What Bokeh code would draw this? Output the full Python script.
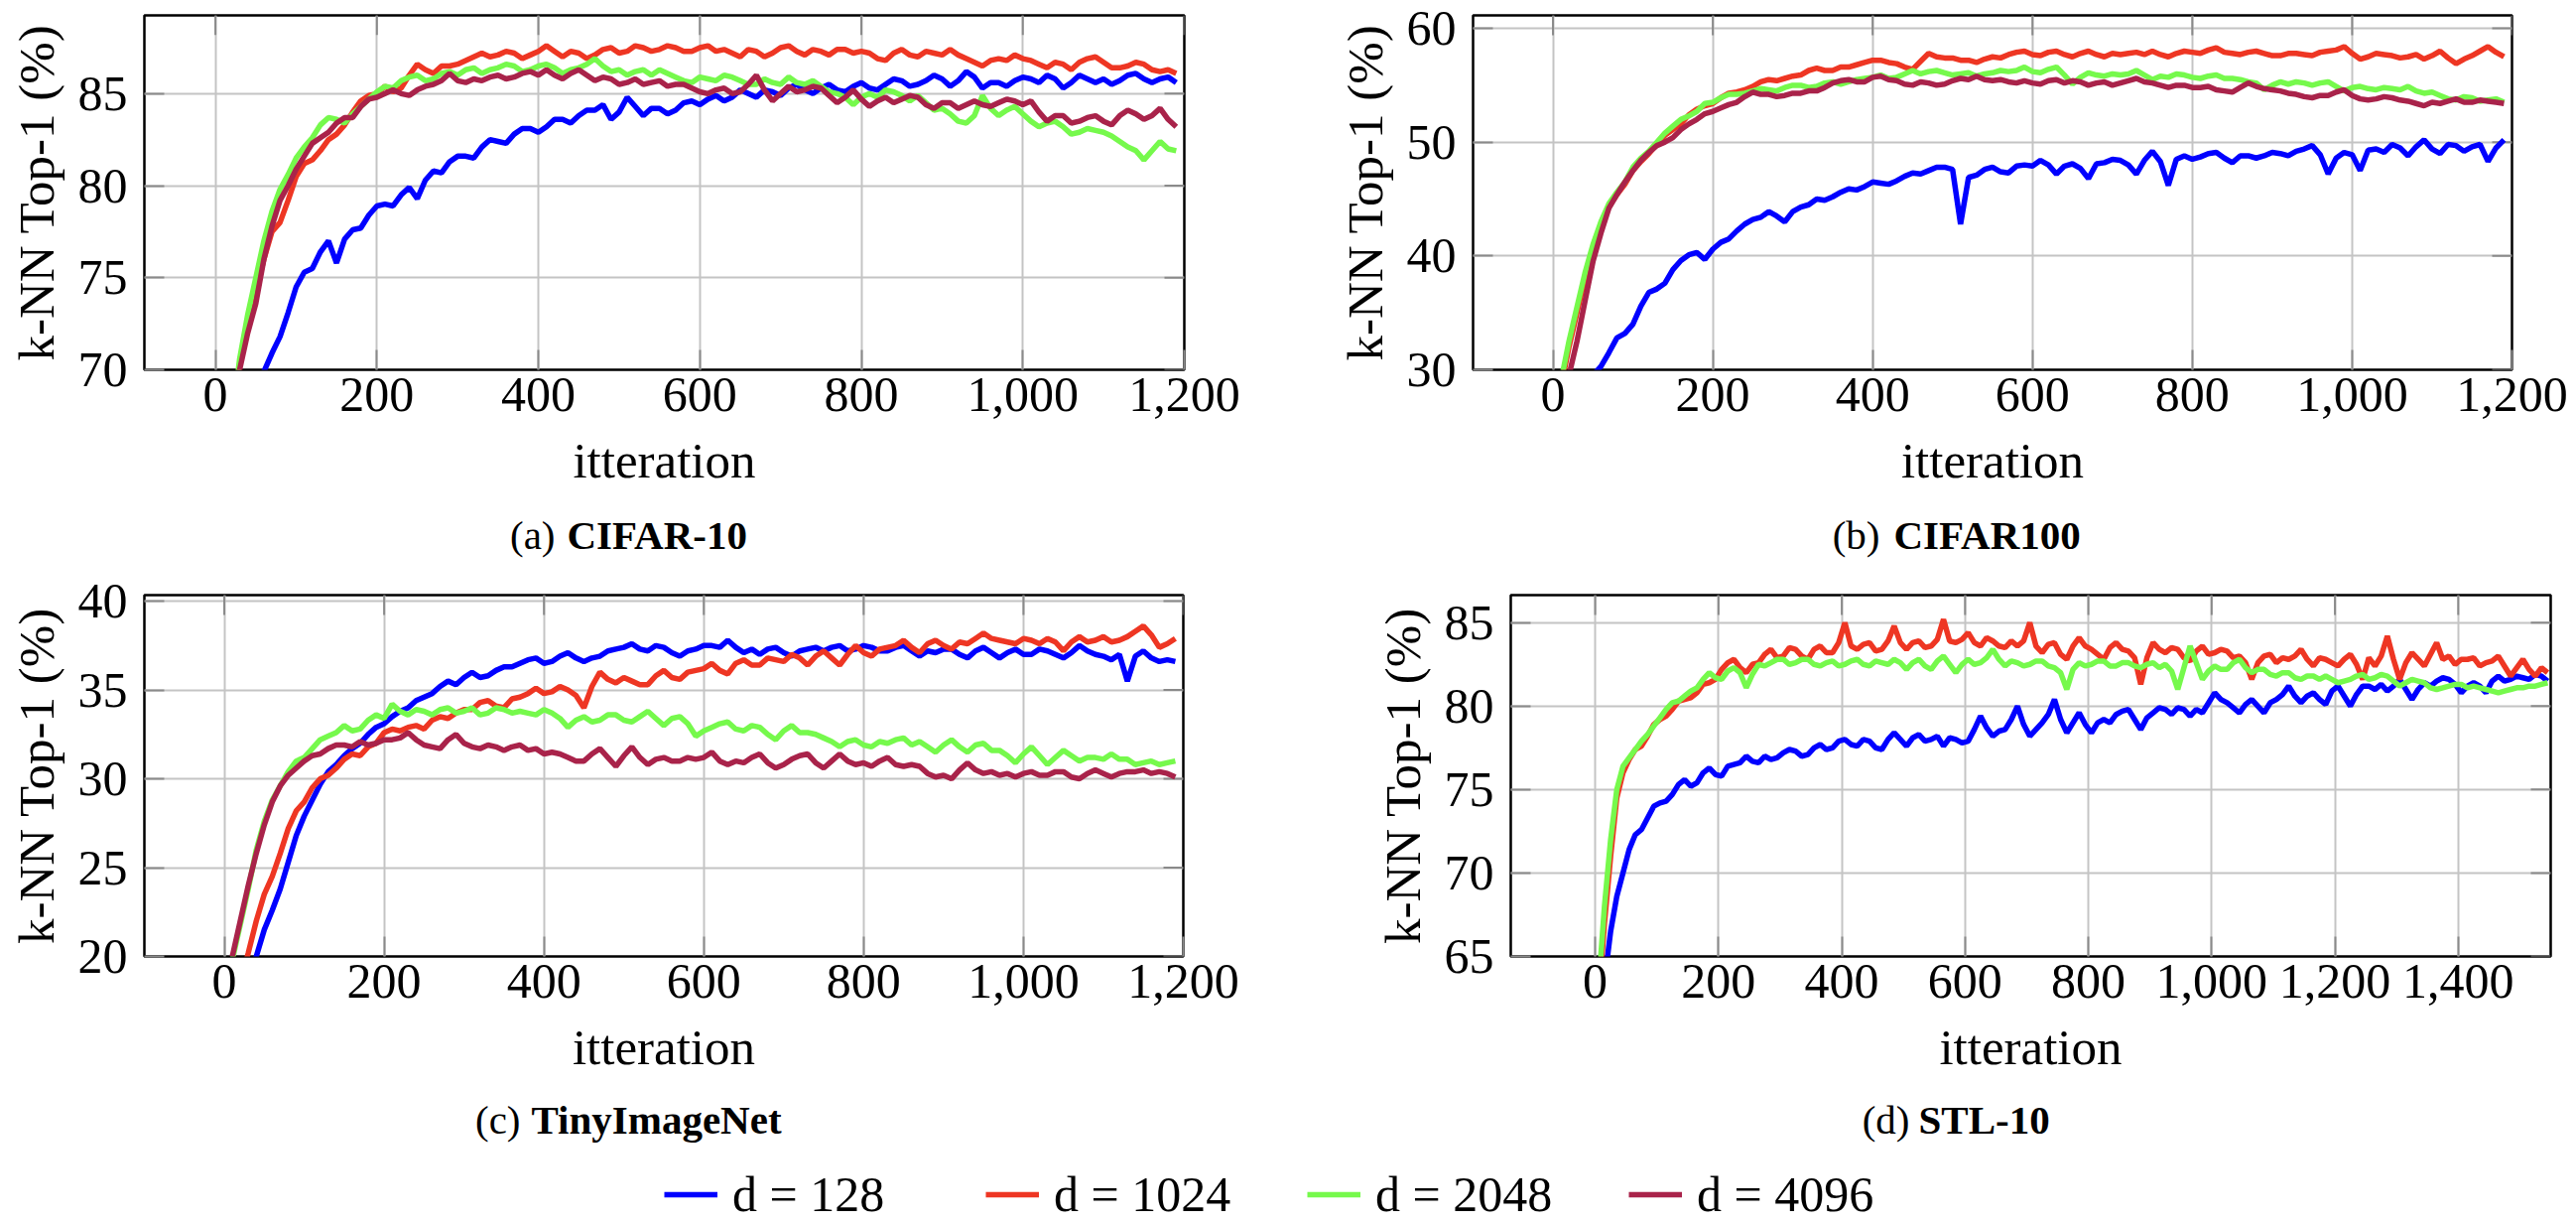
from bokeh.plotting import figure
from bokeh.models import (Range1d, FixedTicker, NumeralTickFormatter, Label, Legend, LegendItem)
from bokeh.layouts import column, row
from bokeh.embed import file_html
from bokeh.resources import INLINE

# ---------------- data ----------------
SERIES = ["d = 128", "d = 1024", "d = 2048", "d = 4096"]
COLORS = ["#0000ff", "#ee3623", "#76f94c", "#a9234a"]

# readings every 20 iterations, plus the in-between readings (…_MID)
ITER_ABC = list(range(10, 1200, 20))
ITER_ABC_MID = list(range(20, 1200, 20))
ITER_D = list(range(5, 1550, 20))
ITER_D_MID = list(range(15, 1545, 20))

X_TICKS_ABC = [0, 200, 400, 600, 800, 1000, 1200]
X_TICKS_D = [0, 200, 400, 600, 800, 1000, 1200, 1400]
A_Y_TICKS = [70, 75, 80, 85]
B_Y_TICKS = [30, 40, 50, 60]
C_Y_TICKS = [20, 25, 30, 35, 40]
D_Y_TICKS = [65, 70, 75, 80, 85]

CAPTION_TAGS = ["(a)", "(b)", "(c)", "(d)"]
CAPTION_NAMES = ["CIFAR-10", "CIFAR100", "TinyImageNet", "STL-10"]

# (a) CIFAR-10
A_128 = [61.0, 65.0, 68.5, 70.9, 73.1, 75.3, 76.4, 75.8, 77.6, 78.4,
         79.0, 79.5, 79.3, 80.8, 81.3, 81.6, 82.1, 82.4, 82.8, 83.1,
         83.2, 83.6, 83.8, 84.1, 83.6, 84.8, 83.8, 84.2, 84.1, 84.6,
         84.7, 84.6, 85.2, 84.8, 85.1, 85.3, 85.2, 85.3, 85.2, 85.4,
         85.3, 85.5, 85.7, 85.5, 86.0, 85.4, 86.2, 85.3, 85.6, 85.7,
         85.8, 86.0, 85.3, 86.0, 85.6, 85.5, 86.0, 85.8, 85.8, 85.6]
A_128_MID = [63.2, 66.6, 69.9, 71.8, 74.5, 75.5, 77.0, 77.1, 77.7, 78.9,
             78.9, 79.9, 80.3, 80.7, 81.6, 81.5, 82.5, 82.3, 83.1, 82.9,
             83.6, 83.4, 84.1, 84.4, 84.0, 84.3, 84.2, 83.9, 84.5, 84.4,
             84.9, 84.8, 85.0, 85.2, 84.9, 85.5, 85.0, 85.5, 85.1, 85.6,
             85.2, 85.8, 85.4, 85.7, 85.8, 85.7, 85.9, 85.6, 85.4, 85.9,
             85.6, 85.8, 85.6, 85.8, 85.8, 85.7, 86.1, 85.6, 85.9]
A_1024 = [62.0, 70.3, 74.2, 77.5, 79.2, 81.2, 81.9, 82.8, 84.0, 84.9,
          85.4, 85.3, 86.6, 86.1, 86.5, 86.8, 87.2, 87.1, 87.2, 87.1,
          87.6, 87.0, 87.2, 87.1, 87.5, 87.3, 87.5, 87.4, 87.5, 87.3,
          87.6, 87.4, 87.0, 87.3, 87.2, 87.6, 87.1, 87.3, 87.4, 87.2,
          87.2, 86.8, 87.4, 87.0, 87.2, 87.4, 86.9, 86.5, 86.9, 87.1,
          86.8, 86.4, 86.6, 86.7, 87.0, 86.4, 86.5, 86.6, 86.2, 86.1]
A_1024_MID = [66.5, 72.4, 76.0, 78.0, 80.5, 81.4, 82.5, 83.3, 84.6, 85.0,
              85.1, 86.0, 86.3, 86.5, 86.6, 87.0, 87.0, 87.3, 86.9, 87.3,
              87.3, 87.3, 86.9, 87.4, 87.2, 87.6, 87.3, 87.6, 87.3, 87.5,
              87.3, 87.2, 87.4, 87.0, 87.5, 87.3, 87.4, 87.1, 87.4, 87.3,
              86.9, 87.2, 87.1, 87.3, 87.1, 87.1, 86.7, 86.8, 86.8, 86.9,
              86.6, 86.7, 86.3, 86.9, 86.7, 86.4, 86.7, 86.3, 86.3]
A_2048 = [63.0, 70.6, 75.0, 78.6, 80.6, 82.1, 83.3, 83.6, 83.9, 84.7,
          85.4, 85.7, 86.0, 85.8, 86.2, 86.3, 86.1, 86.4, 86.5, 86.3,
          86.6, 86.1, 86.4, 86.9, 86.2, 86.0, 86.3, 86.3, 85.9, 85.6,
          85.8, 86.0, 85.7, 85.5, 85.6, 85.9, 85.5, 85.4, 85.0, 84.4,
          85.0, 85.2, 84.9, 84.9, 84.1, 83.9, 83.4, 84.9, 83.8, 84.3,
          83.5, 83.4, 83.2, 82.9, 83.0, 82.7, 82.1, 81.4, 82.4, 81.9]
A_2048_MID = [67.0, 73.0, 77.0, 79.8, 81.5, 82.6, 83.7, 83.4, 84.3, 85.1,
              85.3, 85.9, 85.7, 86.1, 86.0, 86.4, 86.3, 86.6, 86.2, 86.5,
              86.4, 86.3, 86.6, 86.5, 86.3, 86.2, 86.0, 86.1, 85.7, 85.9,
              85.7, 85.9, 85.5, 85.8, 85.5, 85.6, 85.7, 85.1, 84.8, 84.8,
              84.8, 85.1, 84.6, 84.5, 84.2, 83.5, 83.8, 84.2, 84.1, 83.9,
              83.2, 83.5, 82.8, 83.1, 82.9, 82.4, 81.9, 81.9, 82.0]
A_4096 = [61.5, 70.0, 73.6, 77.8, 80.0, 81.6, 82.6, 83.4, 83.7, 84.7,
          85.0, 85.0, 85.2, 85.5, 86.1, 85.6, 85.7, 86.0, 85.9, 86.2,
          86.3, 85.8, 86.3, 85.7, 85.8, 85.6, 85.5, 85.7, 85.5, 85.3,
          85.0, 85.3, 85.1, 86.0, 84.6, 85.4, 85.2, 85.3, 84.5, 85.2,
          84.3, 84.8, 84.7, 84.8, 84.2, 84.5, 84.4, 84.4, 84.5, 84.6,
          84.6, 83.5, 83.8, 83.5, 83.8, 83.3, 84.1, 83.6, 84.2, 83.2]
A_4096_MID = [66.0, 72.0, 76.0, 79.2, 80.9, 82.3, 82.9, 83.7, 84.3, 84.8,
              85.2, 84.9, 85.4, 85.7, 85.7, 85.8, 85.9, 85.8, 86.1, 86.0,
              86.0, 86.1, 86.0, 85.9, 85.5, 85.8, 85.6, 85.4, 85.5, 85.1,
              85.2, 85.0, 85.5, 85.2, 85.0, 85.1, 85.4, 84.9, 84.8, 84.7,
              84.6, 84.5, 84.9, 84.4, 84.5, 84.2, 84.6, 84.3, 84.7, 84.4,
              84.0, 83.8, 83.4, 83.7, 83.5, 83.8, 83.9, 83.8, 83.6]

# (b) CIFAR100
B_128 = [22.0, 26.0, 29.5, 31.5, 33.2, 35.6, 37.1, 38.8, 40.1, 39.7,
         41.2, 42.2, 43.2, 43.9, 43.0, 44.3, 45.0, 45.2, 45.9, 46.1,
         46.4, 46.6, 47.3, 47.5, 47.8, 42.8, 47.1, 47.8, 47.3, 48.0,
         48.4, 47.2, 48.1, 46.8, 48.2, 48.4, 47.2, 49.2, 46.2, 48.8,
         48.7, 49.1, 48.2, 48.8, 48.8, 49.0, 49.2, 49.7, 47.2, 49.1,
         47.5, 49.4, 49.8, 48.8, 50.2, 49.0, 49.7, 49.6, 48.3, 50.2]
B_128_MID = [24.0, 28.0, 30.3, 32.8, 34.0, 36.8, 37.6, 39.6, 40.3, 40.6,
             41.5, 42.8, 43.4, 43.5, 43.9, 44.5, 44.9, 45.6, 45.8, 46.5,
             46.3, 47.0, 47.2, 47.8, 47.6, 46.9, 47.6, 47.4, 47.9, 47.9,
             48.0, 47.9, 47.7, 48.1, 48.5, 48.0, 48.4, 48.3, 48.5, 48.5,
             49.0, 48.6, 48.8, 48.6, 49.1, 48.8, 49.4, 48.9, 48.6, 48.9,
             49.3, 49.1, 49.5, 49.6, 49.4, 49.8, 49.2, 49.8, 49.5]
B_1024 = [28.5, 35.0, 40.6, 44.3, 46.3, 48.3, 49.8, 51.1, 52.4, 53.2,
          53.9, 54.4, 54.9, 55.5, 55.6, 55.9, 56.5, 56.3, 56.6, 57.0,
          57.2, 56.9, 56.4, 57.8, 57.4, 57.2, 57.0, 57.5, 57.7, 58.0,
          57.6, 58.0, 57.5, 58.0, 57.5, 57.7, 57.9, 58.0, 57.5, 58.0,
          57.8, 58.3, 57.8, 57.9, 57.8, 57.6, 57.8, 57.6, 58.0, 58.4,
          57.3, 57.8, 57.6, 57.5, 57.3, 58.0, 56.9, 57.6, 58.4, 57.5]
B_1024_MID = [32.0, 38.0, 42.6, 45.4, 47.5, 49.0, 50.6, 51.6, 52.9, 53.4,
              54.3, 54.6, 55.3, 55.4, 55.8, 56.3, 56.3, 56.6, 56.8, 57.2,
              57.0, 56.6, 57.1, 57.5, 57.4, 57.2, 57.3, 57.4, 57.9, 57.7,
              57.9, 57.7, 57.8, 57.7, 57.8, 57.8, 57.7, 57.7, 57.8, 57.9,
              58.1, 57.9, 57.7, 58.0, 57.6, 57.8, 57.7, 57.9, 58.1, 57.8,
              57.5, 57.7, 57.4, 57.7, 57.6, 57.4, 57.3, 58.0, 57.9]
B_2048 = [29.0, 35.5, 41.0, 44.6, 46.5, 48.6, 50.0, 51.4, 52.3, 53.4,
          53.9, 54.2, 54.5, 54.6, 54.8, 55.0, 54.9, 55.3, 55.3, 55.6,
          55.9, 55.7, 56.3, 56.2, 56.1, 56.0, 55.8, 56.1, 56.2, 56.6,
          56.1, 56.6, 55.1, 56.1, 55.8, 55.9, 56.3, 55.5, 55.7, 55.9,
          55.6, 55.9, 55.6, 55.3, 54.6, 55.3, 55.3, 55.0, 55.3, 54.5,
          54.9, 54.6, 54.7, 54.9, 54.3, 54.1, 53.7, 53.9, 53.7, 53.5]
B_2048_MID = [32.5, 38.5, 43.0, 45.6, 47.8, 49.2, 50.8, 52.0, 52.7, 53.5,
              54.2, 54.3, 54.7, 54.5, 55.0, 54.8, 55.2, 55.1, 55.5, 55.7,
              55.6, 56.0, 56.0, 56.3, 55.9, 56.1, 56.0, 56.3, 56.3, 56.2,
              56.4, 55.9, 55.7, 55.9, 56.0, 56.0, 55.9, 55.8, 56.0, 55.7,
              55.8, 55.6, 55.5, 55.2, 55.0, 55.1, 55.2, 55.2, 54.9, 54.8,
              54.7, 54.8, 54.6, 54.5, 54.4, 53.8, 54.0, 53.6, 53.8]
B_4096 = [27.0, 32.5, 39.5, 44.2, 46.5, 48.4, 49.7, 50.4, 51.6, 52.5,
          53.0, 53.5, 54.4, 54.2, 54.1, 54.3, 54.5, 55.2, 55.5, 55.3,
          55.8, 55.4, 55.0, 55.2, 55.1, 55.6, 55.8, 55.4, 55.3, 55.4,
          55.1, 55.5, 55.4, 55.0, 55.3, 55.2, 55.6, 55.2, 54.8, 55.0,
          54.8, 54.6, 54.4, 55.2, 54.7, 54.5, 54.2, 53.9, 54.1, 54.6,
          53.8, 53.8, 53.9, 53.6, 53.2, 53.4, 53.8, 53.5, 53.6, 53.4]
B_4096_MID = [29.5, 36.0, 42.0, 45.4, 47.5, 49.1, 50.0, 51.1, 52.0, 52.7,
              53.3, 54.0, 54.2, 54.0, 54.3, 54.5, 54.8, 55.4, 55.3, 55.7,
              55.5, 55.1, 55.3, 55.0, 55.4, 55.5, 55.5, 55.5, 55.2, 55.2,
              55.4, 55.2, 55.3, 55.2, 55.0, 55.4, 55.3, 55.0, 55.0, 54.8,
              54.9, 54.5, 54.8, 54.9, 54.6, 54.3, 54.0, 54.1, 54.4, 54.1,
              53.7, 54.0, 53.7, 53.4, 53.5, 53.6, 53.5, 53.7, 53.5]

# (c) TinyImageNet
C_128 = [15.0, 18.5, 21.5, 23.8, 26.8, 28.8, 30.4, 31.3, 32.0, 32.9,
         33.5, 34.0, 34.6, 35.2, 35.3, 36.0, 35.8, 36.3, 36.5, 36.8,
         36.6, 37.1, 36.6, 36.9, 37.3, 37.6, 37.2, 37.4, 36.9, 37.3,
         37.5, 37.8, 37.1, 37.0, 37.4, 36.9, 37.3, 37.2, 37.5, 37.3,
         37.4, 37.2, 37.5, 36.9, 37.1, 37.3, 36.8, 37.4, 36.8, 37.3,
         37.0, 37.2, 36.8, 37.5, 37.0, 36.7, 35.5, 37.2, 36.6, 36.6]
C_128_MID = [16.8, 20.0, 22.6, 25.3, 27.9, 29.7, 30.8, 31.7, 32.5, 33.1,
             33.8, 34.4, 34.8, 35.5, 35.7, 35.7, 36.1, 36.3, 36.7, 36.5,
             36.9, 36.8, 36.8, 37.2, 37.4, 37.3, 37.5, 37.1, 37.2, 37.5,
             37.4, 37.4, 37.3, 37.3, 37.1, 37.2, 37.4, 37.4, 37.2, 37.5,
             37.2, 37.4, 37.2, 37.2, 37.3, 37.0, 37.2, 37.1, 37.1, 37.0,
             37.3, 37.0, 37.1, 37.2, 36.9, 37.0, 36.9, 36.8, 36.7]
C_1024 = [17.0, 20.2, 23.5, 25.8, 28.2, 29.5, 30.2, 31.1, 31.3, 32.0,
          32.8, 32.9, 32.8, 33.5, 33.7, 33.9, 34.4, 34.0, 34.6, 35.1,
          34.9, 35.0, 34.0, 36.0, 35.4, 35.5, 35.3, 36.1, 35.6, 36.1,
          36.5, 35.9, 36.7, 36.4, 36.7, 37.0, 36.4, 37.2, 36.4, 37.5,
          36.9, 37.4, 37.8, 37.1, 37.8, 37.3, 37.6, 38.2, 37.8, 37.6,
          37.8, 37.9, 37.2, 38.0, 37.8, 37.7, 38.0, 38.6, 37.4, 37.9]
C_1024_MID = [18.5, 22.0, 24.5, 27.2, 28.7, 30.0, 30.6, 31.4, 31.8, 32.6,
              32.7, 33.0, 33.3, 33.4, 33.9, 34.3, 34.1, 34.5, 34.8, 34.8,
              35.2, 34.7, 35.2, 35.6, 35.7, 35.3, 35.8, 35.7, 36.0, 36.2,
              36.1, 36.5, 36.4, 36.8, 36.6, 36.8, 36.9, 36.8, 37.0, 37.1,
              37.3, 37.5, 37.4, 37.6, 37.5, 37.7, 37.9, 37.9, 37.7, 37.9,
              37.6, 37.7, 37.7, 37.7, 38.0, 37.8, 38.3, 38.1, 37.6]
C_2048 = [19.8, 23.8, 27.6, 29.6, 31.0, 31.7, 32.4, 33.0, 32.8, 33.6,
          34.2, 33.6, 33.8, 33.9, 33.7, 34.0, 33.7, 33.9, 33.8, 33.6,
          33.7, 32.9, 33.5, 33.3, 33.6, 33.2, 33.8, 33.0, 33.5, 32.4,
          32.9, 33.2, 32.7, 32.9, 32.2, 33.0, 32.6, 32.3, 31.8, 32.2,
          31.8, 32.0, 32.3, 32.1, 31.5, 32.2, 31.5, 32.0, 31.6, 30.9,
          31.8, 30.8, 31.6, 31.0, 31.2, 31.4, 31.1, 30.9, 30.8, 31.0]
C_2048_MID = [21.8, 26.0, 28.8, 30.4, 31.2, 32.2, 32.6, 32.7, 33.3, 33.4,
              33.8, 33.9, 33.6, 34.0, 33.8, 33.6, 34.0, 33.7, 33.7, 33.9,
              33.4, 33.3, 33.2, 33.6, 33.3, 33.5, 33.4, 33.4, 33.1, 32.7,
              33.1, 32.8, 33.0, 32.5, 32.7, 32.6, 32.5, 32.1, 32.1, 31.9,
              32.1, 32.2, 31.9, 31.8, 31.9, 31.8, 31.9, 31.6, 31.3, 31.4,
              31.3, 31.2, 31.3, 31.2, 31.1, 31.1, 30.8, 31.0, 30.9]
C_4096 = [20.0, 24.0, 27.4, 29.6, 30.6, 31.3, 31.7, 31.9, 32.1, 32.0,
          32.2, 32.6, 31.9, 31.7, 32.5, 31.8, 31.9, 31.6, 31.9, 31.7,
          31.5, 31.2, 31.0, 31.7, 30.7, 31.8, 30.8, 31.2, 31.0, 31.1,
          31.5, 30.8, 30.9, 31.4, 30.6, 31.1, 31.4, 30.6, 31.4, 30.8,
          30.7, 31.2, 30.7, 30.7, 30.1, 30.0, 30.9, 30.3, 30.2, 30.1,
          30.4, 30.2, 30.4, 30.0, 30.5, 30.1, 30.4, 30.5, 30.4, 30.1]
C_4096_MID = [22.0, 25.8, 28.7, 30.2, 31.0, 31.4, 31.9, 31.8, 31.9, 32.2,
              32.3, 32.2, 31.8, 32.2, 32.0, 31.7, 31.8, 31.8, 31.6, 31.4,
              31.4, 31.0, 31.4, 31.2, 31.3, 31.2, 31.1, 31.0, 31.2, 31.2,
              31.0, 31.0, 31.2, 30.9, 30.8, 31.3, 30.9, 31.0, 31.0, 30.9,
              31.0, 30.8, 30.8, 30.3, 30.2, 30.5, 30.5, 30.4, 30.3, 30.3,
              30.2, 30.4, 30.1, 30.3, 30.3, 30.3, 30.4, 30.3, 30.3]

# (d) STL-10 (no d = 4096 run)
D_128 = [60.0, 66.5, 70.0, 72.3, 73.3, 74.2, 74.7, 75.6, 75.4, 76.3,
         75.8, 76.5, 77.0, 76.6, 76.8, 77.2, 77.3, 77.1, 77.7, 77.5,
         78.0, 77.6, 77.9, 77.4, 78.4, 77.6, 78.3, 78.0, 77.6, 78.0,
         77.9, 79.4, 78.2, 78.6, 80.0, 78.2, 79.0, 80.4, 78.4, 79.6,
         78.4, 79.2, 79.5, 79.8, 78.6, 79.6, 79.8, 79.9, 79.4, 79.6,
         80.8, 80.2, 79.6, 80.4, 79.6, 80.4, 81.2, 80.2, 80.8, 80.1,
         81.2, 80.0, 81.2, 81.0, 80.9, 81.6, 80.4, 81.4, 81.5, 81.6,
         80.8, 81.4, 80.8, 81.8, 81.6, 81.7, 81.9, 81.5]
D_128_MID = [63.5, 68.6, 71.4, 72.6, 74.0, 74.3, 75.3, 75.2, 76.0, 75.9,
             76.4, 76.6, 76.7, 77.0, 76.9, 77.4, 77.0, 77.5, 77.4, 77.9,
             77.7, 78.0, 77.5, 78.0, 78.0, 78.1, 77.9, 78.2, 78.1, 77.8,
             78.6, 78.7, 78.5, 79.2, 78.9, 78.6, 79.5, 79.2, 79.0, 78.9,
             79.0, 79.0, 79.7, 79.2, 79.3, 79.9, 79.5, 79.8, 79.8, 80.2,
             80.4, 79.9, 80.1, 80.0, 80.2, 80.7, 80.6, 80.6, 80.4, 80.9,
             80.6, 80.7, 81.2, 81.3, 81.2, 81.0, 81.0, 81.2, 81.7, 81.3,
             81.2, 81.2, 81.5, 81.5, 81.8, 81.6, 81.8]
D_1024 = [62.0, 71.0, 76.0, 77.4, 78.2, 79.2, 79.8, 80.4, 80.8, 81.4,
          82.2, 82.8, 82.0, 82.6, 83.4, 83.0, 83.4, 82.8, 83.6, 83.2,
          85.0, 83.4, 83.8, 83.4, 84.8, 83.4, 83.9, 83.6, 85.2, 83.8,
          84.4, 83.6, 83.9, 83.5, 83.6, 85.0, 83.2, 83.8, 82.8, 84.1,
          83.4, 82.8, 83.8, 83.3, 81.3, 83.8, 83.2, 83.4, 82.7, 83.6,
          83.2, 83.3, 83.0, 81.6, 83.0, 82.6, 82.8, 83.4, 82.4, 82.8,
          82.4, 83.1, 81.6, 82.4, 84.2, 81.6, 83.2, 82.4, 83.8, 83.0,
          82.8, 82.9, 82.6, 83.0, 81.8, 82.8, 81.8, 82.0]
D_1024_MID = [67.0, 74.5, 76.8, 77.6, 78.9, 79.4, 80.3, 80.5, 81.3, 81.6,
              82.6, 82.3, 82.5, 83.1, 82.9, 83.5, 83.0, 83.4, 83.2, 83.8,
              83.6, 83.7, 83.3, 83.9, 83.8, 83.8, 83.5, 84.0, 83.9, 84.0,
              83.8, 84.1, 83.6, 83.9, 83.9, 83.6, 83.7, 83.1, 83.6, 83.6,
              83.1, 83.5, 83.4, 82.9, 82.9, 83.4, 83.5, 82.9, 83.3, 83.1,
              83.4, 82.9, 82.6, 82.6, 83.1, 82.9, 83.0, 82.8, 82.9, 82.6,
              82.8, 82.5, 82.9, 83.0, 82.8, 82.6, 82.8, 83.1, 82.8, 82.5,
              82.8, 82.4, 82.7, 82.4, 82.3, 82.2, 82.3]
D_2048 = [63.0, 72.0, 76.4, 77.4, 78.3, 79.3, 80.2, 80.6, 81.1, 82.0,
          81.6, 82.3, 81.1, 82.5, 82.6, 82.8, 82.6, 82.8, 82.4, 82.7,
          82.5, 82.8, 82.4, 82.6, 82.8, 82.2, 82.8, 82.2, 83.0, 82.0,
          82.8, 82.6, 83.4, 82.4, 82.6, 82.5, 82.7, 82.3, 81.0, 82.6,
          82.5, 82.7, 82.4, 82.6, 82.3, 82.6, 82.5, 81.0, 83.6, 81.6,
          82.4, 82.2, 82.8, 82.0, 82.2, 81.8, 82.0, 81.6, 81.8, 81.8,
          81.4, 81.6, 81.9, 81.7, 81.8, 81.2, 81.6, 81.4, 81.0, 81.2,
          81.3, 81.2, 81.0, 80.8, 81.0, 81.1, 81.2, 81.4]
D_2048_MID = [68.0, 75.0, 76.9, 77.9, 78.8, 79.8, 80.3, 80.9, 81.6, 81.7,
              82.1, 82.0, 81.9, 82.4, 82.8, 82.5, 82.8, 82.5, 82.6, 82.4,
              82.7, 82.5, 82.7, 82.5, 82.6, 82.6, 82.4, 82.7, 82.5, 82.5,
              82.5, 82.9, 82.8, 82.7, 82.4, 82.7, 82.4, 82.0, 82.2, 82.4,
              82.7, 82.4, 82.6, 82.4, 82.5, 82.3, 82.1, 82.3, 82.6, 82.1,
              82.2, 82.6, 82.3, 82.2, 81.9, 82.0, 81.7, 81.8, 81.6, 81.6,
              81.5, 81.8, 81.6, 81.9, 81.5, 81.4, 81.5, 81.1, 81.1, 81.3,
              81.1, 81.1, 80.9, 80.9, 81.1, 81.2, 81.3]


def merge(xa, ya, xb, yb):
    pts = sorted(list(zip(xa, ya)) + list(zip(xb, yb)))
    return [q[0] for q in pts], [q[1] for q in pts]


# ---------------- styling helpers ----------------
FONT = "Liberation Serif"
GRID = "#c4c4c4"
TICK = "#8a8a8a"
TICK_LEN = 20
LINE_W = 5.5


def style_axis(ax):
    ax.axis_line_color = None
    ax.major_tick_in = TICK_LEN
    ax.major_tick_out = 0
    ax.major_tick_line_color = TICK
    ax.major_tick_line_width = 2
    ax.minor_tick_line_color = None
    ax.major_label_text_font = FONT
    ax.major_label_text_font_size = "50px"
    ax.major_label_text_color = "black"
    ax.axis_label_text_font = FONT
    ax.axis_label_text_font_size = "51px"
    ax.axis_label_text_font_style = "normal"
    ax.axis_label_text_color = "black"


def panel(width, height, borders, xr, yr, xticks, yticks, runs):
    bl, br, bt, bb = borders
    fw = width - bl - br
    fh = height - bt - bb
    p = figure(width=width, height=height, x_range=Range1d(*xr), y_range=Range1d(*yr),
               output_backend="svg", toolbar_location=None,
               min_border_left=bl, min_border_right=br,
               min_border_top=bt, min_border_bottom=bb,
               x_axis_label="itteration", y_axis_label="k-NN Top-1 (%)")
    p.background_fill_color = "white"
    p.border_fill_color = "white"
    p.outline_line_color = "black"
    p.outline_line_width = 2.5
    xt = FixedTicker(ticks=xticks, minor_ticks=[])
    yt = FixedTicker(ticks=yticks, minor_ticks=[])
    p.xaxis.ticker = xt
    p.yaxis.ticker = yt
    p.xaxis.formatter = NumeralTickFormatter(format="0,0")
    p.grid.grid_line_color = GRID
    p.grid.grid_line_width = 2
    style_axis(p.xaxis[0])
    style_axis(p.yaxis[0])
    p.xaxis.major_label_standoff = 8
    p.xaxis.axis_label_standoff = 19
    p.yaxis.major_label_standoff = 17
    p.yaxis.axis_label_standoff = 11

    # inner tick marks on the top and right sides of the box (pgfplots style)
    dy = (yr[1] - yr[0]) * TICK_LEN / fh
    dx = (xr[1] - xr[0]) * TICK_LEN / fw
    p.segment(x0=xticks, y0=[yr[1]] * len(xticks), x1=xticks, y1=[yr[1] - dy] * len(xticks),
              line_color=TICK, line_width=2)
    p.segment(x0=[xr[1]] * len(yticks), y0=yticks, x1=[xr[1] - dx] * len(yticks), y1=yticks,
              line_color=TICK, line_width=2)

    for (xs, ys), c in zip(runs, COLORS):
        p.line(xs, ys, line_color=c, line_width=LINE_W)
    return p


def blank(width, height):
    f = figure(width=width, height=height, output_backend="svg", toolbar_location=None,
               x_axis_type=None, y_axis_type=None, min_border=0,
               x_range=Range1d(0, 1), y_range=Range1d(0, 1))
    f.outline_line_color = None
    f.grid.visible = False
    f.background_fill_color = "white"
    f.border_fill_color = "white"
    return f


def caption_row(height, entries):
    f = blank(2590, height)
    for tag, name, x_end, x_start, y in entries:
        f.add_layout(Label(x=x_end, y=y, x_units="screen", y_units="screen", text=tag,
                           text_align="right", text_baseline="middle", text_font=FONT,
                           text_font_size="41px", text_color="black"))
        f.add_layout(Label(x=x_start, y=y, x_units="screen", y_units="screen", text=name,
                           text_align="left", text_baseline="middle", text_font=FONT,
                           text_font_size="41px", text_font_style="bold", text_color="black"))
    return f


runs_a = [merge(ITER_ABC, v, ITER_ABC_MID, m) for v, m in
          [(A_128, A_128_MID), (A_1024, A_1024_MID), (A_2048, A_2048_MID), (A_4096, A_4096_MID)]]
runs_b = [merge(ITER_ABC, v, ITER_ABC_MID, m) for v, m in
          [(B_128, B_128_MID), (B_1024, B_1024_MID), (B_2048, B_2048_MID), (B_4096, B_4096_MID)]]
runs_c = [merge(ITER_ABC, v, ITER_ABC_MID, m) for v, m in
          [(C_128, C_128_MID), (C_1024, C_1024_MID), (C_2048, C_2048_MID), (C_4096, C_4096_MID)]]
runs_d = [merge(ITER_D, v, ITER_D_MID, m) for v, m in
          [(D_128, D_128_MID), (D_1024, D_1024_MID), (D_2048, D_2048_MID)]]

pa = panel(1268, 515, (145, 75, 9, 143), (-88, 1200), (70, 89.25), X_TICKS_ABC, A_Y_TICKS, runs_a)
pb = panel(1322, 515, (216, 59, 15, 143), (-100, 1200), (30, 61.14), X_TICKS_ABC, B_Y_TICKS, runs_b)
pc = panel(1268, 530, (145, 76, 29, 137), (-100, 1200), (20, 40.34), X_TICKS_ABC, C_Y_TICKS, runs_c)
pd = panel(1322, 530, (254, 20, 29, 137), (-137, 1550), (65, 86.65), X_TICKS_D, D_Y_TICKS, runs_d)

# caption rows: 515..570 and 1100..1170 on the page; y = caption centre from row bottom
cap1 = caption_row(55, [(CAPTION_TAGS[0], CAPTION_NAMES[0], 559, 571, 32),
                        (CAPTION_TAGS[1], CAPTION_NAMES[1], 1894, 1908, 32)])
cap2 = caption_row(70, [(CAPTION_TAGS[2], CAPTION_NAMES[2], 524, 535, 43),
                        (CAPTION_TAGS[3], CAPTION_NAMES[3], 1924, 1933, 43)])

# ---------------- shared legend ----------------
lg = blank(2590, 62)
items = []
for name, (xs, ys), c in zip(SERIES, runs_a, COLORS):
    r = lg.line(x=xs, y=ys, line_color=c, line_width=LINE_W)  # out of view; legend only
    items.append(LegendItem(label=name, renderers=[r]))
legend = Legend(items=items, orientation="horizontal", location=(669, 0),
                glyph_width=54, glyph_height=20, label_standoff=15, label_width=255,
                spacing=0, padding=0, margin=0, border_line_color=None,
                background_fill_alpha=0, label_text_font=FONT,
                label_text_font_size="50px", label_text_color="black")
lg.add_layout(legend, "center")

layout = column(row(pa, pb), cap1, row(pc, pd), cap2, lg)
open("out.html", "w").write(file_html(layout, INLINE))
